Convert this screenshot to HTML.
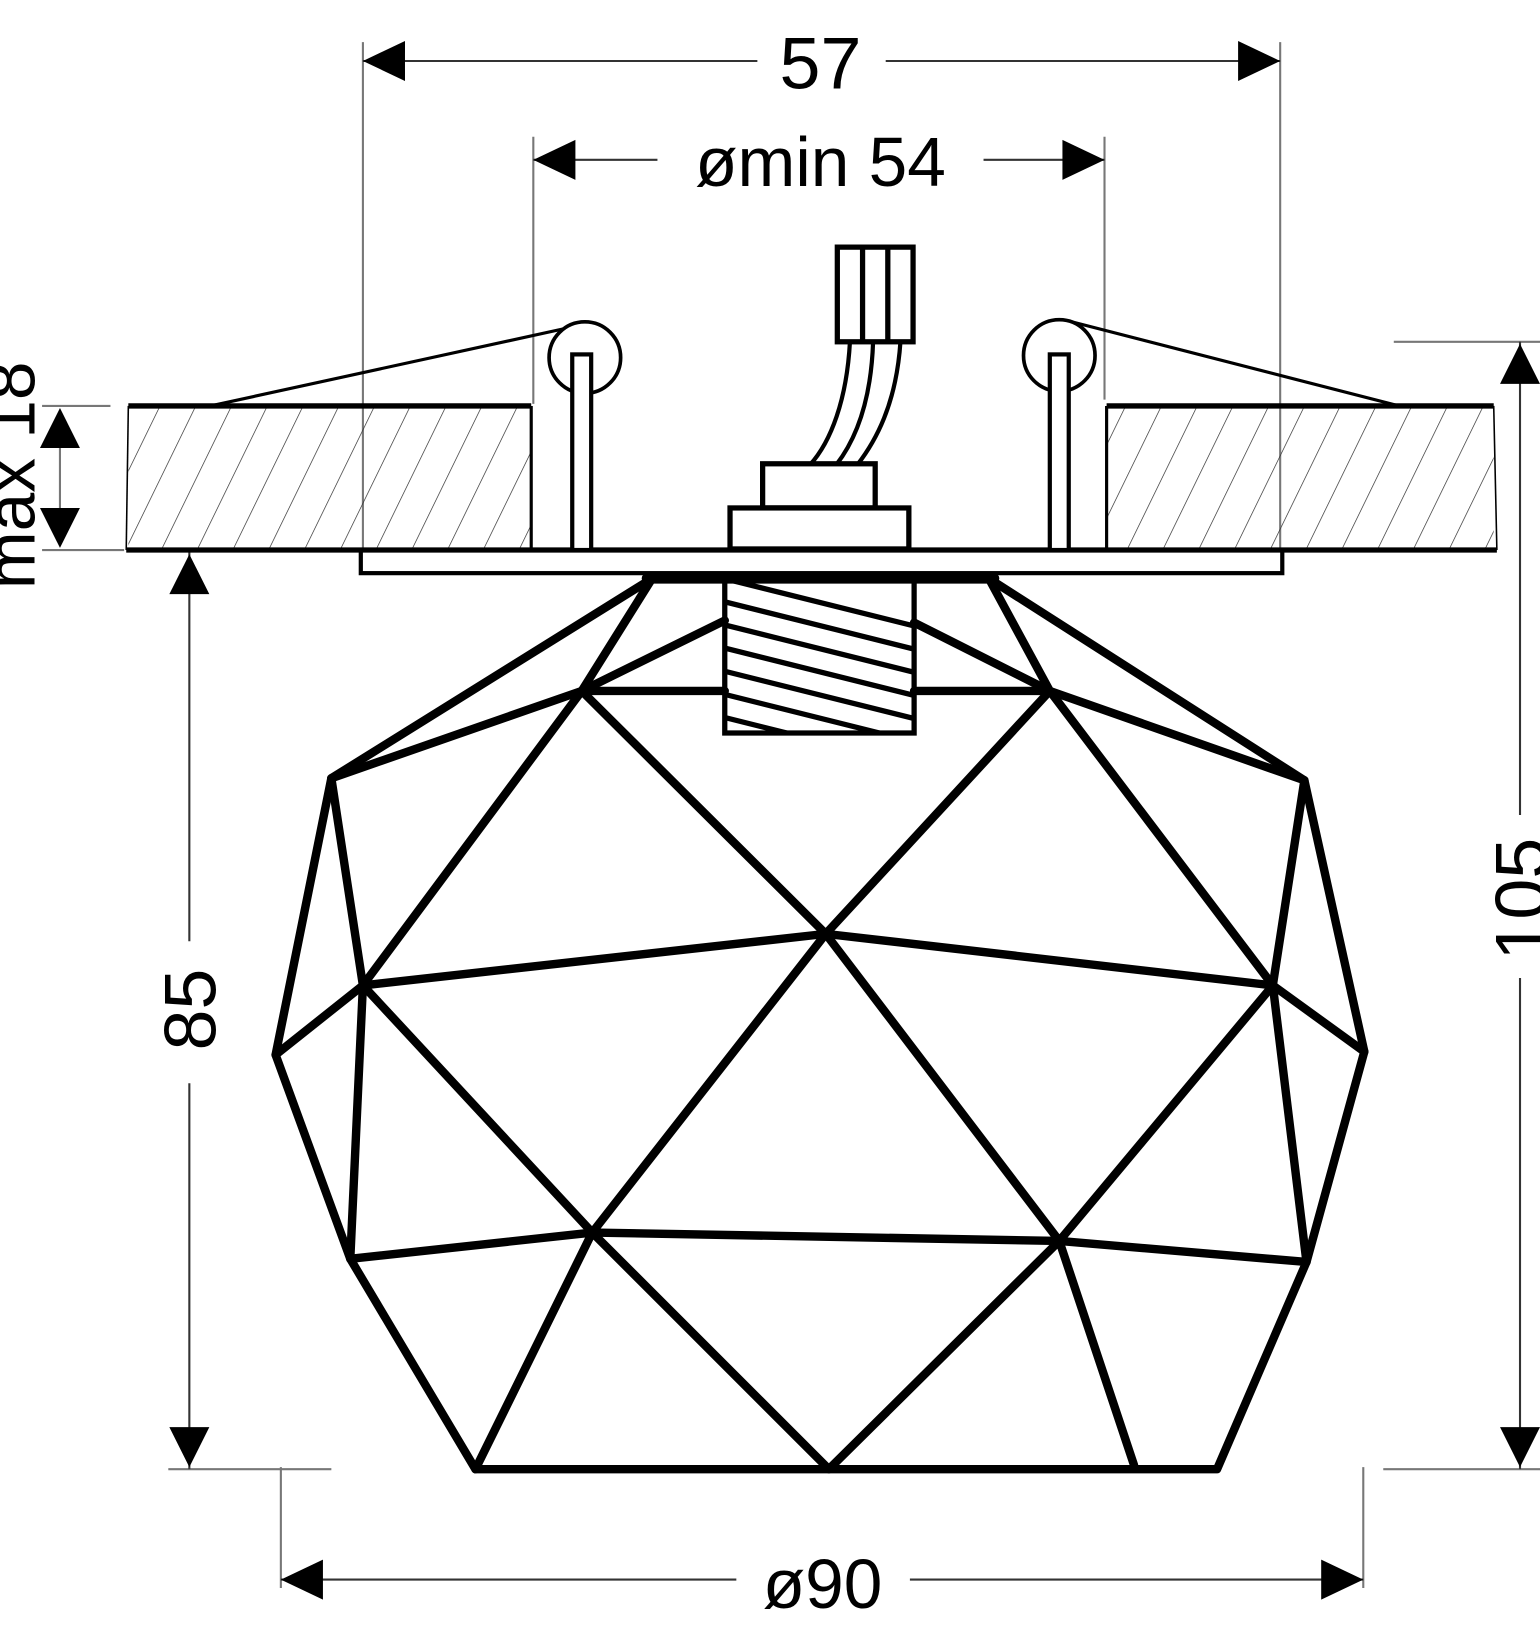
<!DOCTYPE html>
<html><head><meta charset="utf-8"><style>html,body{margin:0;padding:0;background:#fff;overflow:hidden}svg{display:block}</style></head>
<body>
<svg width="1540" height="1649" viewBox="0 0 1464 1568" preserveAspectRatio="none" xmlns="http://www.w3.org/2000/svg">
<defs>
<pattern id="h" patternUnits="userSpaceOnUse" width="34" height="200" patternTransform="skewX(-26)">
<line x1="0" y1="0" x2="0" y2="200" stroke="#333" stroke-width="1.5"/>
</pattern>
<clipPath id="th"><rect x="691" y="553" width="176" height="142"/></clipPath>
</defs>
<g font-family="Liberation Sans, Arial, sans-serif" fill="#000">
<!-- extension lines -->
<g stroke="#777" stroke-width="2" fill="none">
<line x1="345" y1="40" x2="345" y2="523"/>
<line x1="1217" y1="40" x2="1217" y2="523"/>
<line x1="507" y1="130" x2="507" y2="384"/>
<line x1="1050" y1="130" x2="1050" y2="380"/>
<line x1="40" y1="386" x2="105" y2="386"/>
<line x1="40" y1="523" x2="118" y2="523"/>
<line x1="57" y1="395" x2="57" y2="515"/>
<line x1="160" y1="1397" x2="315" y2="1397"/>
<line x1="1325" y1="325" x2="1464" y2="325"/>
<line x1="1315" y1="1397" x2="1464" y2="1397"/>
<line x1="267" y1="1395" x2="267" y2="1510"/>
<line x1="1296" y1="1395" x2="1296" y2="1510"/>
</g>
<g stroke="#333" stroke-width="2">
<line x1="345" y1="58" x2="720" y2="58"/><line x1="842" y1="58" x2="1217" y2="58"/>
<line x1="507" y1="152" x2="625" y2="152"/><line x1="935" y1="152" x2="1050" y2="152"/>
<line x1="180" y1="525" x2="180" y2="895"/><line x1="180" y1="1030" x2="180" y2="1397"/>
<line x1="1445" y1="325" x2="1445" y2="775"/><line x1="1445" y1="930" x2="1445" y2="1397"/>
<line x1="267" y1="1502" x2="700" y2="1502"/><line x1="865" y1="1502" x2="1296" y2="1502"/>
</g>
<!-- arrowheads -->
<polygon points="345,58 385,39 385,77"/>
<polygon points="1217,58 1177,39 1177,77"/>
<polygon points="507,152 547,133 547,171"/>
<polygon points="1050,152 1010,133 1010,171"/>
<polygon points="57,388 38,426 76,426"/>
<polygon points="57,521 38,483 76,483"/>
<polygon points="180,527 161,565 199,565"/>
<polygon points="180,1395 161,1357 199,1357"/>
<polygon points="1445,327 1426,365 1464,365"/>
<polygon points="1445,1395 1426,1357 1464,1357"/>
<polygon points="267,1502 307,1483 307,1521"/>
<polygon points="1296,1502 1256,1483 1256,1521"/>
<!-- text -->
<text x="780" y="84" font-size="70" text-anchor="middle">57</text>
<text x="780" y="177" font-size="66" text-anchor="middle">ømin 54</text>
<text x="782" y="1529" font-size="66" text-anchor="middle">ø90</text>
<text transform="translate(205,960) rotate(-90)" font-size="70" text-anchor="middle">85</text>
<text transform="translate(1470,855) rotate(-90)" font-size="70" text-anchor="middle">105</text>
<text transform="translate(33,452) rotate(-90)" font-size="66" text-anchor="middle">max 18</text>
<!-- slabs -->
<rect x="122" y="388" width="383" height="135" fill="url(#h)"/>
<rect x="1052" y="388" width="368" height="135" fill="url(#h)"/>
<g stroke="#000" fill="none">
<line x1="122" y1="386" x2="505" y2="386" stroke-width="5"/>
<line x1="1052" y1="386" x2="1420" y2="386" stroke-width="5"/>
<line x1="505" y1="386" x2="505" y2="523" stroke-width="3"/>
<line x1="1052" y1="386" x2="1052" y2="523" stroke-width="3"/>
<line x1="122" y1="386" x2="120" y2="523" stroke-width="1.5"/>
<line x1="1420" y1="386" x2="1423" y2="523" stroke-width="1.5"/>
<line x1="120" y1="523" x2="1423" y2="523" stroke-width="5"/>
<rect x="343" y="523" width="876" height="22" stroke-width="4"/>
<!-- springs -->
<line x1="200" y1="386" x2="548" y2="310" stroke-width="3"/>
<line x1="1330" y1="386" x2="1015" y2="305" stroke-width="3"/>
<circle cx="556" cy="340" r="34" stroke-width="3.5" fill="#fff"/>
<circle cx="1007" cy="338" r="34" stroke-width="3.5" fill="#fff"/>
<rect x="544" y="337" width="18" height="186" stroke-width="4" fill="#fff"/>
<rect x="998" y="337" width="18" height="186" stroke-width="4" fill="#fff"/>
<!-- connector -->
<rect x="796" y="235" width="72" height="90" stroke-width="5"/>
<line x1="820" y1="235" x2="820" y2="325" stroke-width="5"/>
<line x1="844" y1="235" x2="844" y2="325" stroke-width="5"/>
<path d="M808,325 C805,380 790,420 770,442 M830,325 C828,385 812,420 795,442 M856,325 C852,385 832,420 815,442" stroke-width="4"/>
<rect x="725" y="441" width="107" height="42" stroke-width="5" fill="#fff"/>
<rect x="694" y="483" width="170" height="39" stroke-width="5" fill="#fff"/>
<!-- thread -->
<rect x="689" y="548" width="180" height="149" stroke-width="5"/>
<g clip-path="url(#th)" stroke-width="5">
<line x1="680" y1="548" x2="880" y2="598"/>
<line x1="680" y1="570" x2="880" y2="620"/>
<line x1="680" y1="592" x2="880" y2="642"/>
<line x1="680" y1="614" x2="880" y2="664"/>
<line x1="680" y1="636" x2="880" y2="686"/>
<line x1="680" y1="658" x2="880" y2="708"/>
<line x1="680" y1="680" x2="880" y2="730"/>
</g>
<!-- ball -->
<g stroke-width="8" stroke-linejoin="round" stroke-linecap="round">
<line x1="615" y1="550" x2="945" y2="550" stroke-width="10"/>
<polyline points="620,550 315,740 262,1003 333,1197 452,1397 1157,1397 1242,1200 1297,1000 1240,742 940,550"/>
<line x1="620" y1="550" x2="553" y2="657"/>
<line x1="940" y1="550" x2="998" y2="657"/>
<line x1="553" y1="657" x2="689" y2="657"/>
<line x1="869" y1="657" x2="998" y2="657"/>
<line x1="553" y1="657" x2="689" y2="590"/>
<line x1="998" y1="657" x2="869" y2="592"/>
<line x1="553" y1="657" x2="315" y2="740"/>
<line x1="998" y1="657" x2="1240" y2="742"/>
<line x1="553" y1="657" x2="345" y2="937"/>
<line x1="553" y1="657" x2="785" y2="888"/>
<line x1="998" y1="657" x2="785" y2="888"/>
<line x1="998" y1="657" x2="1210" y2="937"/>
<line x1="315" y1="740" x2="345" y2="937"/>
<line x1="1240" y1="742" x2="1210" y2="937"/>
<line x1="345" y1="937" x2="785" y2="888"/>
<line x1="785" y1="888" x2="1210" y2="937"/>
<line x1="262" y1="1003" x2="345" y2="937"/>
<line x1="1297" y1="1000" x2="1210" y2="937"/>
<line x1="345" y1="937" x2="563" y2="1172"/>
<line x1="785" y1="888" x2="563" y2="1172"/>
<line x1="785" y1="888" x2="1007" y2="1180"/>
<line x1="1210" y1="937" x2="1007" y2="1180"/>
<line x1="345" y1="937" x2="333" y2="1197"/>
<line x1="1210" y1="937" x2="1242" y2="1200"/>
<line x1="333" y1="1197" x2="563" y2="1172"/>
<line x1="563" y1="1172" x2="1007" y2="1180"/>
<line x1="1007" y1="1180" x2="1242" y2="1200"/>
<line x1="563" y1="1172" x2="452" y2="1397"/>
<line x1="563" y1="1172" x2="788" y2="1397"/>
<line x1="1007" y1="1180" x2="788" y2="1397"/>
<line x1="1007" y1="1180" x2="1078" y2="1393"/>
</g>
</g>
</g>
</svg>
</body></html>
